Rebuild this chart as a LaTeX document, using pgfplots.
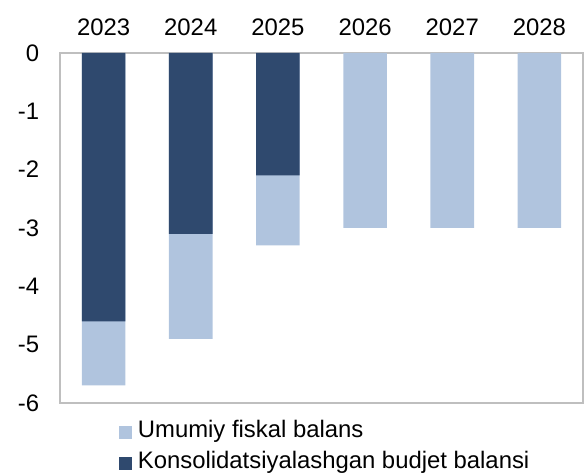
\documentclass[border=0pt]{standalone}
\usepackage{pgfplots}
\pgfplotsset{compat=1.18}
\usepackage{fontspec}
\setmainfont{Liberation Sans}
\definecolor{lightbar}{HTML}{B0C4DE}
\definecolor{darkbar}{HTML}{2F496E}
\definecolor{framegray}{HTML}{BFBFBF}
\begin{document}
\fontsize{17.9}{21}\selectfont
\begin{tikzpicture}
\useasboundingbox (-45pt,-52.5pt) rectangle (393pt,302.25pt);
\begin{axis}[
  at={(0pt,0pt)}, anchor=south west,
  scale only axis,
  width=392.25pt, height=262.5pt,
  xmin=-0.5, xmax=5.5,
  ymin=-6, ymax=0,
  xtick={0,1,2,3,4,5},
  xticklabels={2023,2024,2025,2026,2027,2028},
  xticklabel pos=upper,
  ytick={-6,-5,-4,-3,-2,-1,0},
  yticklabels={-6,-5,-4,-3,-2,-1,0},
  major tick length=0pt,
  axis line style={framegray, line width=0.9pt},
  tick style={draw=none},
  ticklabel style={font=\fontsize{17.9}{21}\selectfont},
  yticklabel style={xshift=-9.5pt},
  xticklabel style={yshift=7pt},
  bar width=0.5,
  legend style={at={(rel axis cs:0,0)}, anchor=north west, xshift=44.25pt, yshift=-13pt,
    draw=none, fill=none, inner sep=0pt, row sep=6.8pt,
    font=\fontsize{17.9}{21}\selectfont,
    nodes={inner sep=0pt, text height=12.8pt, text depth=3.7pt, anchor=west}},
  legend cell align=left,
  legend image code/.code={\fill[#1] (0pt,-5.6pt) rectangle (9.8pt,4.2pt);},
]
\addplot[ybar, bar shift=0pt, fill=lightbar, draw=none]
  coordinates {(0,-5.7) (1,-4.9) (2,-3.3) (3,-3.0) (4,-3.0) (5,-3.0)};
\addlegendentry{\hspace{4.2pt}Umumiy fiskal balans}
\addplot[ybar, bar shift=0pt, fill=darkbar, draw=none]
  coordinates {(0,-4.6) (1,-3.1) (2,-2.1)};
\addlegendentry{\hspace{4.2pt}Konsolidatsiyalashgan budjet balansi}
\end{axis}
\end{tikzpicture}
\end{document}
